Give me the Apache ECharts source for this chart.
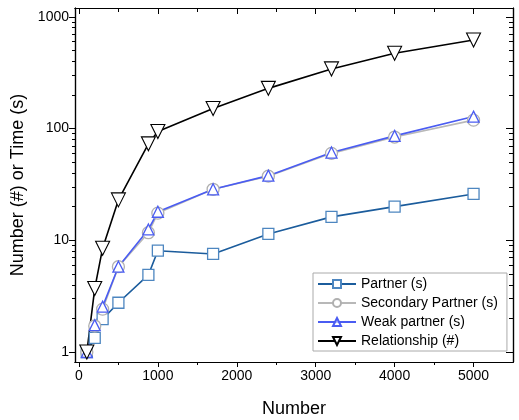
<!DOCTYPE html>
<html>
<head>
<meta charset="utf-8">
<script src="https://cdn.jsdelivr.net/npm/echarts@6/dist/echarts.min.js"></script>
<style>
  html, body { margin: 0; padding: 0; background: #fff; }
  #chart { width: 519px; height: 420px; }
</style>
</head>
<body>
<div id="chart"></div>
<script>
// x values (Number)
const numbers = [100, 200, 300, 500, 880, 1000, 1700, 2400, 3200, 4000, 5000]

// series values
const partner = [1.0, 1.34, 1.97, 2.76, 4.9, 8.07, 7.55, 11.4, 16.2, 20.0, 26.0]
const secondaryPartner = [1.0, 1.71, 2.42, 5.8, 11.7, 17.5, 28.6, 37.5, 60.0, 84.0, 119]
const weakPartner = [1.0, 1.74, 2.55, 5.8, 12.5, 18.0, 28.6, 37.9, 61.0, 86.0, 128]
const relationship = [1.0, 3.7, 8.5, 23, 73, 94, 151, 229, 342, 472, 621]

// tick values
const xMajor = [0, 1000, 2000, 3000, 4000, 5000]
const xMinor = [500, 1500, 2500, 3500, 4500]
const yMajor = [1, 10, 100, 1000]
const yMinor = [2, 3, 4, 5, 6, 7, 8, 9, 20, 30, 40, 50, 60, 70, 80, 90, 200, 300, 400, 500, 600, 700, 800, 900]

const FONT = '"Liberation Sans", Arial, sans-serif'
const X_MIN = -50, X_MAX = 5500
const Y_MIN = 0.814, Y_MAX = 1200

const pair = (xs, ys) => xs.map((x, i) => [x, ys[i]])

const chart = echarts.init(document.getElementById('chart'), null, { renderer: 'canvas' })

// 坐标轴：主刻度 / 次刻度 分开画，四边成框
function tickLabel(ticks, withLabel, margin) {
  return withLabel
    ? { show: true, customValues: ticks, color: '#000', fontSize: 14, fontFamily: FONT, margin: margin, formatter: v => String(v) }
    : { show: true, customValues: ticks, formatter: () => '' }
}
function xAxisDef(pos, ticks, len, inside, withLabel) {
  return {
    type: 'value', position: pos, min: X_MIN, max: X_MAX,
    axisLine: { show: true, onZero: false, lineStyle: { color: '#000', width: 1.2 } },
    axisTick: { show: true, inside: inside, length: len, customValues: ticks, lineStyle: { color: '#000', width: 1 } },
    axisLabel: tickLabel(ticks, withLabel, 7),
    splitLine: { show: false }
  }
}
function yAxisDef(pos, ticks, len, inside, withLabel) {
  return {
    type: 'log', logBase: 10, position: pos, min: Y_MIN, max: Y_MAX,
    axisLine: { show: true, onZero: false, lineStyle: { color: '#000', width: 1.2 } },
    axisTick: { show: true, inside: inside, length: len, customValues: ticks, lineStyle: { color: '#000', width: 1 } },
    axisLabel: tickLabel(ticks, withLabel, 6),
    splitLine: { show: false },
    minorTick: { show: false }
  }
}

const xAxes = [
  Object.assign(xAxisDef('bottom', xMajor, 5, false, true), {
    name: 'Number', nameLocation: 'middle', nameGap: 38,
    nameTextStyle: { color: '#000', fontSize: 18, fontFamily: FONT }
  }),
  xAxisDef('bottom', xMinor, 3, false, false),
  xAxisDef('top', xMajor, 6, true, false),
  xAxisDef('top', xMinor, 4, true, false)
]
const yAxes = [
  Object.assign(yAxisDef('left', yMajor, 6, false, true), {
    name: 'Number (#) or Time (s)', nameLocation: 'middle', nameGap: 39,
    nameTextStyle: { color: '#000', fontSize: 18, fontFamily: FONT }
  }),
  yAxisDef('left', yMinor, 3, false, false),
  yAxisDef('right', yMajor, 7, true, false),
  yAxisDef('right', yMinor, 4, true, false)
]

chart.setOption({
  animation: false,
  backgroundColor: '#fff',
  textStyle: { fontFamily: FONT },
  grid: { left: 75, right: 6, top: 8, bottom: 58, containLabel: false, outerBoundsMode: 'none' },
  xAxis: xAxes,
  yAxis: yAxes,
  legend: {
    orient: 'vertical',
    left: 313, top: 273,
    padding: [4, 9, 3, 4],
    itemWidth: 38, itemHeight: 10, itemGap: 5,
    backgroundColor: '#fff',
    borderColor: '#aaa', borderWidth: 1, borderRadius: 0,
    textStyle: { color: '#000', fontSize: 14, fontFamily: FONT },
    data: ['Partner (s)', 'Secondary Partner (s)', 'Weak partner (s)', 'Relationship (#)']
  },
  series: [
    {
      name: 'Partner (s)', type: 'line',
      data: pair(numbers, partner),
      symbol: 'rect', symbolSize: 11,
      lineStyle: { color: '#1b5c9c', width: 1.6 },
      itemStyle: { color: '#fff', borderColor: '#4d86c0', borderWidth: 1.3 }
    },
    {
      name: 'Secondary Partner (s)', type: 'line',
      data: pair(numbers, secondaryPartner),
      symbol: 'circle', symbolSize: 12,
      lineStyle: { color: '#b8b8b8', width: 1.6 },
      itemStyle: { color: '#fff', borderColor: '#b0b0b0', borderWidth: 1.3 }
    },
    {
      name: 'Weak partner (s)', type: 'line',
      data: pair(numbers, weakPartner),
      symbol: 'triangle', symbolSize: 11,
      lineStyle: { color: '#4a5cf2', width: 1.6 },
      itemStyle: { color: 'rgba(255,255,255,0.6)', borderColor: '#4a5cf2', borderWidth: 1.3 }
    },
    {
      name: 'Relationship (#)', type: 'line',
      data: pair(numbers, relationship),
      symbol: 'triangle', symbolRotate: 180, symbolSize: 14,
      lineStyle: { color: '#000', width: 1.6 },
      itemStyle: { color: '#fff', borderColor: '#000', borderWidth: 1.1 }
    }
  ]
})
</script>
</body>
</html>
